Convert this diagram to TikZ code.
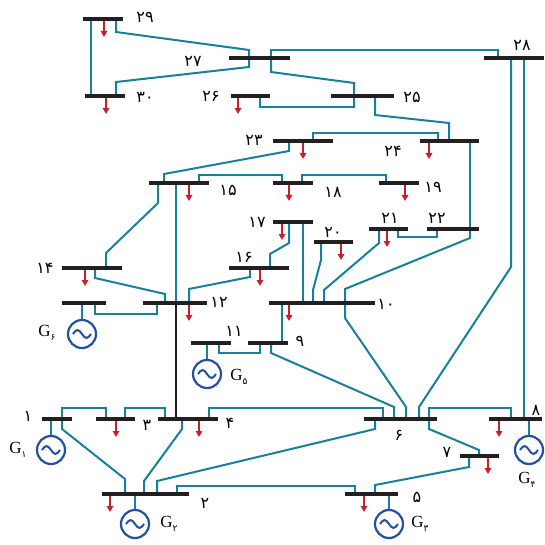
\documentclass[tikz,border=0pt]{standalone}
\usepackage{fontspec}
\setmainfont{Liberation Serif}
\newfontfamily\fa[Script=Arabic]{DejaVu Sans}
\usetikzlibrary{arrows.meta}
\definecolor{linecol}{RGB}{24,128,152}
\definecolor{buscol}{RGB}{35,31,32}
\definecolor{loadcol}{RGB}{200,30,45}
\definecolor{gencol}{RGB}{35,80,160}
\pgfdeclarelayer{background}
\pgfsetlayers{background,main}
\newcommand{\loadarrow}{-{Triangle[length=6pt,width=6.5pt]}}
\newcommand{\gname}[1]{G\raisebox{-0.45ex}{\fa\fontsize{9}{9}\selectfont #1}}

\begin{document}
\begin{tikzpicture}[x=1pt,y=-1pt,
	bus/.style={fill=buscol,inner sep=0,minimum height=3.3pt},
	ln/.style={draw=linecol,line width=2pt},
	load/.style={draw=loadcol,line width=1.6pt,fill=loadcol,\loadarrow},
	gen/.style={circle,draw=gencol,line width=2.2pt,minimum size=28pt,inner sep=0,
		path picture={\draw[gencol,line width=2pt] ([xshift=-9pt]path picture bounding box.center)
			sin ++(4.5pt,4pt) cos ++(4.5pt,-4pt) sin ++(4.5pt,-4pt) cos ++(4.5pt,4pt);}},
	lbl/.style={font=\fa\fontsize{16}{18}\selectfont,inner sep=0},
	glbl/.style={font=\fontsize{17}{18}\selectfont,inner sep=0}]
	\useasboundingbox (0,0) rectangle (545,545);
	% buses
	\node[bus,minimum width=30] (b1) at (57,419) {};
	\node[bus,minimum width=87] (b2) at (145.5,494) {};
	\node[bus,minimum width=39] (b3) at (115.5,419) {};
	\node[bus,minimum width=60] (b4) at (188,419) {};
	\node[bus,minimum width=53] (b5) at (371.5,494) {};
	\node[bus,minimum width=73] (b6) at (400.5,419) {};
	\node[bus,minimum width=39] (b7) at (479.5,456) {};
	\node[bus,minimum width=53] (b8) at (515.5,419) {};
	\node[bus,minimum width=40] (b9) at (268,343) {};
	\node[bus,minimum width=106] (b10) at (322,303) {};
	\node[bus,minimum width=40] (b11) at (211,343) {};
	\node[bus,minimum width=64] (b12) at (175,303) {};
	\node[bus,minimum width=44] (b13) at (84,303) {};
	\node[bus,minimum width=60] (b14) at (92,268) {};
	\node[bus,minimum width=60] (b15) at (179,183) {};
	\node[bus,minimum width=60] (b16) at (259,268) {};
	\node[bus,minimum width=40] (b17) at (293,222) {};
	\node[bus,minimum width=40] (b18) at (293,183) {};
	\node[bus,minimum width=40] (b19) at (399,183) {};
	\node[bus,minimum width=39] (b20) at (333.5,242) {};
	\node[bus,minimum width=39] (b21) at (388.5,229) {};
	\node[bus,minimum width=52] (b22) at (453,229) {};
	\node[bus,minimum width=60] (b23) at (303,141) {};
	\node[bus,minimum width=59] (b24) at (449.5,141) {};
	\node[bus,minimum width=63] (b25) at (362.5,96) {};
	\node[bus,minimum width=39] (b26) at (250.5,96) {};
	\node[bus,minimum width=61] (b27) at (259.5,58) {};
	\node[bus,minimum width=60] (b28) at (514,58) {};
	\node[bus,minimum width=40] (b29) at (103,19) {};
	\node[bus,minimum width=40] (b30) at (105,96) {};
	% generators
	\node[gen] (g1) at (51,450) {};
	\node[gen] (g2) at (135,524) {};
	\node[gen] (g3) at (389,524) {};
	\node[gen] (g4) at (529,450) {};
	\node[gen] (g5) at (207,374) {};
	\node[gen] (g6) at (82,334) {};
	\node[glbl] (lg1) at (18,450) {\gname{۱}};
	\node[glbl] (lg2) at (169,524) {\gname{۲}};
	\node[glbl] (lg3) at (420,524) {\gname{۳}};
	\node[glbl] (lg4) at (527,480) {\gname{۴}};
	\node[glbl] (lg5) at (239,377) {\gname{۵}};
	\node[glbl] (lg6) at (47,333) {\gname{۶}};
	% bus numbers
	\node[lbl] (l1) at (28,416) {۱};
	\node[lbl] (l2) at (205,503) {۲};
	\node[lbl] (l3) at (147,425) {۳};
	\node[lbl] (l4) at (230,423) {۴};
	\node[lbl] (l5) at (417,497) {۵};
	\node[lbl] (l6) at (399,435) {۶};
	\node[lbl] (l7) at (447,452) {۷};
	\node[lbl] (l8) at (536,410) {۸};
	\node[lbl] (l9) at (300,341) {۹};
	\node[lbl] (l10) at (386,304) {۱۰};
	\node[lbl] (l11) at (234,331) {۱۱};
	\node[lbl] (l12) at (219,302) {۱۲};
	\node[lbl] (l14) at (45,268) {۱۴};
	\node[lbl] (l15) at (228,190) {۱۵};
	\node[lbl] (l16) at (244,257) {۱۶};
	\node[lbl] (l17) at (257,222) {۱۷};
	\node[lbl] (l18) at (333,192) {۱۸};
	\node[lbl] (l19) at (433,187) {۱۹};
	\node[lbl] (l20) at (333,232) {۲۰};
	\node[lbl] (l21) at (390,218) {۲۱};
	\node[lbl] (l22) at (437,218) {۲۲};
	\node[lbl] (l23) at (254,140) {۲۳};
	\node[lbl] (l24) at (393,151) {۲۴};
	\node[lbl] (l25) at (412,97) {۲۵};
	\node[lbl] (l26) at (211,96) {۲۶};
	\node[lbl] (l27) at (193,61) {۲۷};
	\node[lbl] (l28) at (522,45) {۲۸};
	\node[lbl] (l29) at (145,17) {۲۹};
	\node[lbl] (l30) at (145,97) {۳۰};
	\begin{pgfonlayer}{background}
	% lines
	\draw[ln] (91,0 |- b29) -- (91,0 |- b30);
	\draw[ln] (116,0 |- b29) -- (116,32) -- (249,50) -- (249,0 |- b27);
	\draw[ln] (249,0 |- b27) -- (249,67) -- (116,82) -- (116,0 |- b30);
	\draw[ln] (271,0 |- b27) -- (271,50) -- (498,50) -- (498,0 |- b28);
	\draw[ln] (271,0 |- b27) -- (271,72) -- (354,83) -- (354,0 |- b25);
	\draw[ln] (354,0 |- b25) -- (354,107) -- (260,107) -- (260,0 |- b26);
	\draw[ln] (375,0 |- b25) -- (375,115) -- (449,123) -- (449,0 |- b24);
	\draw[ln] (438,0 |- b24) -- (438,133) -- (313,133) -- (313,0 |- b23);
	\draw[ln] (470,0 |- b24) -- (470,0 |- b22);
	\draw[ln] (289,0 |- b23) -- (289,151) -- (164,174) -- (164,0 |- b15);
	\draw[ln] (199,0 |- b15) -- (199,175) -- (282,175) -- (282,0 |- b18);
	\draw[ln] (302,0 |- b18) -- (302,175) -- (386,175) -- (386,0 |- b19);
	\draw[ln] (158,0 |- b15) -- (158,203) -- (106,253) -- (106,0 |- b14);
	\draw[ln] (176,0 |- b15) -- (176,0 |- b12);
	\draw[ln] (95,0 |- b14) -- (95,278) -- (165,294) -- (165,0 |- b12);
	\draw[ln] (157,0 |- b12) -- (157,314) -- (95,314) -- (95,0 |- b13);
	\draw[ln] (189,0 |- b12) -- (189,289) -- (250,277) -- (250,0 |- b16);
	\draw[ln] (270,0 |- b16) -- (270,254) -- (289,243) -- (289,0 |- b17);
	\draw[ln] (303,0 |- b17) -- (303,0 |- b10);
	\draw[ln] (321,0 |- b20) -- (321,260) -- (313,290) -- (313,0 |- b10);
	\draw[ln] (379,0 |- b21) -- (379,243) -- (324,290) -- (324,0 |- b10);
	\draw[ln] (398,0 |- b21) -- (398,237) -- (437,237) -- (437,0 |- b22);
	\draw[ln] (470,0 |- b22) -- (470,238) -- (345,289) -- (345,0 |- b10);
	\draw[ln] (345,0 |- b10) -- (345,318) -- (406,407) -- (406,0 |- b6);
	\draw[ln] (282,0 |- b10) -- (282,0 |- b9);
	\draw[ln] (219,0 |- b11) -- (219,353) -- (260,353) -- (260,0 |- b9);
	\draw[ln] (271,0 |- b9) -- (271,353) -- (394,407) -- (394,0 |- b6);
	\draw[ln] (511,0 |- b28) -- (511,267) -- (419,407) -- (419,0 |- b6);
	\draw[ln] (524,0 |- b28) -- (524,0 |- b8);
	\draw[ln] (429,0 |- b6) -- (429,408) -- (511,408) -- (511,0 |- b8);
	\draw[ln] (209,0 |- b4) -- (209,408) -- (383,408) -- (383,0 |- b6);
	\draw[ln] (375,0 |- b6) -- (375,429) -- (157,481) -- (157,0 |- b2);
	\draw[ln] (429,0 |- b6) -- (429,429) -- (479,450) -- (479,0 |- b7);
	\draw[ln] (469,0 |- b7) -- (469,467) -- (375,485) -- (375,0 |- b5);
	\draw[ln] (177,0 |- b2) -- (177,486) -- (355,486) -- (355,0 |- b5);
	\draw[ln] (62,0 |- b1) -- (62,408) -- (106,408) -- (106,0 |- b3);
	\draw[ln] (62,0 |- b1) -- (62,429) -- (125,479) -- (125,0 |- b2);
	\draw[ln] (125,0 |- b3) -- (125,408) -- (165,408) -- (165,0 |- b4);
	\draw[ln] (182,0 |- b4) -- (182,429) -- (144,481) -- (144,0 |- b2);
	\draw[buscol,line width=1.4pt] (176,0 |- b12) -- (176,0 |- b4);
	% generator ties
	\draw[ln] (51,0 |- b1) -- (g1);
	\draw[ln] (135,0 |- b2) -- (g2);
	\draw[ln] (389,0 |- b5) -- (g3);
	\draw[ln] (529,0 |- b8) -- (g4);
	\draw[ln] (207,0 |- b11) -- (g5);
	\draw[ln] (82,0 |- b13) -- (g6);
	% loads
	\foreach \b/\x in {b29/104,b30/106,b26/238,b24/429,b23/303,b15/189,b18/289,b19/405,
		b17/282,b20/341,b21/387,b16/260,b14/85,b12/189,b10/289,b3/116,b4/199,b2/110,
		b5/364,b7/488,b8/499}
		\draw[load] (\x,0 |- \b) -- ++(0,18);
	\end{pgfonlayer}
\end{tikzpicture}
\end{document}
